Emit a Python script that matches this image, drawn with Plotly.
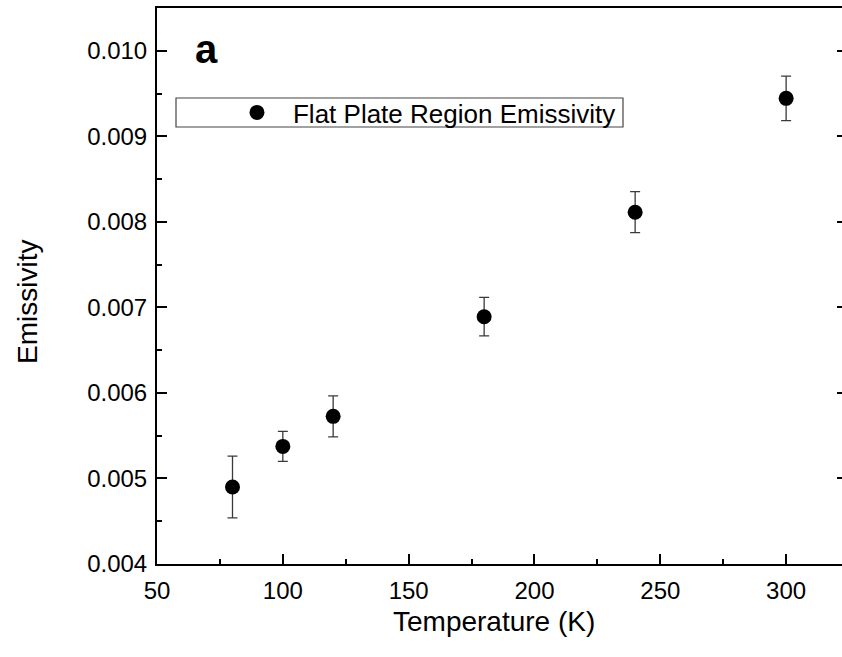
import plotly.graph_objects as go

temperature = [80, 100, 120, 180, 240, 300]
emissivity = [0.00490, 0.005375, 0.005726, 0.006891, 0.008113, 0.009444]
emissivity_err = [0.00036, 0.000175, 0.00024, 0.000225, 0.00024, 0.00026]
series_name = "Flat Plate Region Emissivity"
panel_label = "a"
x_title = "Temperature (K)"
y_title = "Emissivity"

FONT = "Liberation Sans, Arial, sans-serif"

fig = go.Figure()
fig.add_trace(go.Scatter(
    x=temperature, y=emissivity, mode="markers", name=series_name,
    marker=dict(color="black", size=15, symbol="circle"),
    error_y=dict(type="data", array=emissivity_err, visible=True,
                 color="#3a3a3a", thickness=1.3, width=5),
    showlegend=True,
))
# carrier for the right-hand tick axis
fig.add_trace(go.Scatter(x=[], y=[], yaxis="y2", showlegend=False, hoverinfo="skip"))

L, R, T, B = 157, 0, 8, 93
PW, PH = 685, 556
fig.update_layout(
    width=842, height=657,
    margin=dict(l=L, r=R, t=T, b=B),
    paper_bgcolor="white", plot_bgcolor="white",
    font=dict(family=FONT, color="black", size=24),
    showlegend=True,
    legend=dict(x=0.0934, y=0.812, xanchor="left", yanchor="middle",
                bgcolor="rgba(0,0,0,0)", borderwidth=0,
                font=dict(family=FONT, size=26, color="black"),
                itemwidth=62),
    xaxis=dict(range=[50, 322.2], dtick=50, tick0=0,
               showline=True, linecolor="black", linewidth=2, mirror=True,
               ticks="inside", ticklen=10, tickwidth=2, tickcolor="black",
               minor=dict(ticks="inside", ticklen=5, tickwidth=2, dtick=25, tick0=0,
                          tickcolor="black", showgrid=False),
               showgrid=False, zeroline=False,
               tickfont=dict(size=24), ticklabelstandoff=4),
    yaxis=dict(range=[0.004, 0.0105], dtick=0.001, tick0=0, tickformat=".3f",
               showline=True, linecolor="black", linewidth=2, mirror=False,
               ticks="inside", ticklen=10, tickwidth=2, tickcolor="black",
               minor=dict(ticks="inside", ticklen=5, tickwidth=2, dtick=0.0005, tick0=0,
                          tickcolor="black", showgrid=False),
               showgrid=False, zeroline=False,
               tickfont=dict(size=24), ticklabelstandoff=3),
    yaxis2=dict(range=[0.004, 0.0105], dtick=0.001, tick0=0, overlaying="y", side="right",
                showline=False, ticks="inside", ticklen=5, tickwidth=2, tickcolor="black",
                showticklabels=False, showgrid=False, zeroline=False),
)

# legend frame
fig.add_shape(type="rect", xref="paper", yref="paper",
              x0=(176 - L) / PW, x1=(623 - L) / PW,
              y0=(564 - 127) / PH, y1=(564 - 98) / PH,
              line=dict(color="#444444", width=1.2), fillcolor="rgba(0,0,0,0)", layer="below")

fig.add_annotation(text=f"<b>{panel_label}</b>", xref="paper", yref="paper",
                   x=(193 - L) / PW, y=(564 - 49) / PH, xanchor="left", yanchor="middle",
                   showarrow=False, font=dict(family=FONT, size=40, color="black"))

# axis titles
fig.add_annotation(text=x_title, xref="paper", yref="paper",
                   x=(494 - L) / PW, y=(564 - 621) / PH, xanchor="center", yanchor="middle",
                   showarrow=False, font=dict(family=FONT, size=28, color="black"))
fig.add_annotation(text=y_title, xref="paper", yref="paper", textangle=-90,
                   x=(27 - L) / PW, y=(564 - 302) / PH, xanchor="center", yanchor="middle",
                   showarrow=False, font=dict(family=FONT, size=28, color="black"))

fig.write_html("out.html")
